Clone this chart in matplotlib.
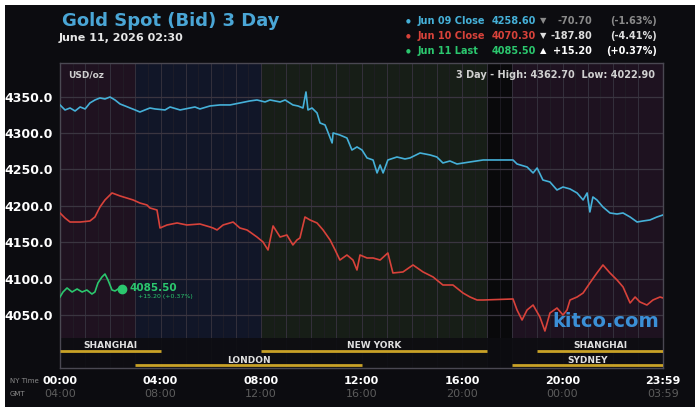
import matplotlib.pyplot as plt
from matplotlib.patches import Rectangle
from matplotlib.transforms import blended_transform_factory

# hours (NY time) and prices
jun09_hours = [0.00, 0.20, 0.40, 0.60, 0.80, 1.00, 1.19, 1.39, 1.59, 1.79, 1.99, 2.19, 2.39, 2.59,
               2.79, 2.99, 3.18, 3.38, 3.58, 3.78, 4.18, 4.38, 4.78, 5.17, 5.37, 5.57, 5.97, 6.37,
               6.77, 7.16, 7.56, 7.84, 8.16, 8.36, 8.76, 8.96, 9.27, 9.47, 9.67, 9.79, 9.87, 10.03,
               10.23, 10.35, 10.55, 10.63, 10.83, 10.87, 11.14, 11.42, 11.62, 11.82, 12.02, 12.22,
               12.46, 12.62, 12.74, 12.86, 13.05, 13.41, 13.73, 13.93, 14.33, 14.73, 15.00, 15.24,
               15.52, 15.80, 16.32, 16.84, 18.03, 18.19, 18.59, 18.83, 18.99, 19.22, 19.50, 19.78,
               20.02, 20.30, 20.58, 20.82, 20.98, 21.09, 21.21, 21.37, 21.61, 21.89, 22.17, 22.41,
               22.69, 22.97, 23.20, 23.48, 23.76, 24.00]
jun09_price = [4338.5, 4331.6, 4334.3, 4330.2, 4335.7, 4333.0, 4341.2, 4345.3, 4348.1, 4346.7,
               4349.4, 4345.3, 4339.8, 4337.1, 4334.3, 4331.6, 4328.8, 4331.6, 4334.3, 4333.0,
               4331.6, 4335.7, 4331.6, 4334.3, 4335.7, 4333.0, 4337.1, 4338.5, 4338.5, 4341.2,
               4344.0, 4345.3, 4342.6, 4345.3, 4342.6, 4345.3, 4338.5, 4337.1, 4334.3, 4356.3,
               4331.6, 4334.3, 4327.5, 4313.7, 4311.0, 4304.1, 4286.3, 4300.0, 4297.2, 4293.1,
               4276.6, 4280.8, 4276.6, 4265.7, 4262.9, 4245.1, 4256.0, 4245.1, 4262.9, 4267.0,
               4264.3, 4265.7, 4272.5, 4269.8, 4267.0, 4258.8, 4261.5, 4257.4, 4260.2, 4262.9,
               4262.9, 4257.4, 4253.3, 4245.1, 4251.9, 4235.4, 4232.7, 4221.7, 4225.8, 4223.1,
               4217.6, 4208.0, 4217.6, 4191.5, 4212.1, 4208.0, 4198.3, 4190.1, 4188.7, 4190.1,
               4184.6, 4177.7, 4179.1, 4180.5, 4184.6, 4187.4]

jun10_hours = [0.00, 0.20, 0.40, 0.80, 1.19, 1.39, 1.59, 1.79, 2.07, 2.39, 2.91, 3.18, 3.46, 3.58,
               3.86, 3.98, 4.26, 4.66, 5.05, 5.57, 5.97, 6.09, 6.25, 6.49, 6.89, 7.16, 7.44, 7.56,
               7.84, 8.08, 8.28, 8.48, 8.76, 9.03, 9.27, 9.43, 9.55, 9.75, 9.95, 10.23, 10.47,
               10.75, 10.95, 11.14, 11.42, 11.66, 11.82, 11.94, 12.22, 12.46, 12.74, 13.05, 13.25,
               13.65, 14.05, 14.45, 14.85, 15.24, 15.64, 16.04, 16.32, 16.60, 16.84, 18.03, 18.19,
               18.39, 18.59, 18.83, 19.10, 19.30, 19.50, 19.78, 20.02, 20.18, 20.30, 20.58, 20.82,
               21.09, 21.37, 21.61, 21.89, 22.17, 22.41, 22.69, 22.89, 23.08, 23.36, 23.60, 23.88,
               24.00]
jun10_price = [4190.1, 4183.2, 4177.7, 4177.7, 4179.1, 4184.6, 4198.3, 4208.0, 4217.6, 4213.5,
               4208.0, 4203.8, 4201.1, 4197.0, 4194.2, 4169.5, 4173.6, 4176.4, 4173.6, 4175.0,
               4170.9, 4169.5, 4166.8, 4173.6, 4177.7, 4169.5, 4166.8, 4164.0, 4157.1, 4150.3,
               4139.3, 4172.3, 4157.1, 4159.9, 4146.2, 4153.0, 4155.8, 4184.6, 4180.5, 4176.4,
               4166.8, 4153.0, 4139.3, 4125.5, 4132.4, 4125.5, 4111.8, 4132.4, 4128.3, 4128.3,
               4125.5, 4135.2, 4107.7, 4109.1, 4118.7, 4109.1, 4102.2, 4091.2, 4091.2, 4080.2,
               4074.7, 4070.6, 4070.6, 4072.0, 4056.9, 4043.1, 4056.9, 4063.7, 4047.3, 4028.0,
               4052.7, 4059.6, 4050.0, 4056.9, 4070.6, 4074.7, 4080.2, 4094.0, 4107.7, 4118.7,
               4107.7, 4098.1, 4088.5, 4066.5, 4074.7, 4067.9, 4063.7, 4070.6, 4074.7, 4073.4]

jun11_hours = [0.00, 0.12, 0.28, 0.48, 0.68, 0.88, 1.07, 1.27, 1.39, 1.51, 1.67, 1.79, 1.91,
               2.07, 2.19, 2.31, 2.47]
jun11_price = [4074.7, 4081.6, 4087.1, 4081.6, 4085.7, 4081.6, 4084.3, 4078.8, 4081.6, 4094.0,
               4102.2, 4106.3, 4098.1, 4084.3, 4083.0, 4085.7, 4085.5]

legend_rows = [("Jun 09 Close", "4258.60", "\u25bc", "-70.70", "(-1.63%)"),
               ("Jun 10 Close", "4070.30", "\u25bc", "-187.80", "(-4.41%)"),
               ("Jun 11 Last", "4085.50", "\u25b2", "+15.20", "(+0.37%)")]

y_ticks = [4050, 4100, 4150, 4200, 4250, 4300, 4350]
x_ticks = [0, 4, 8, 12, 16, 20, 24]
ny_labels = ["00:00", "04:00", "08:00", "12:00", "16:00", "20:00", "23:59"]
gmt_labels = ["04:00", "08:00", "12:00", "16:00", "20:00", "00:00", "03:59"]

# (name, start hour, end hour, row)
sessions = [("SHANGHAI", 0, 4, 0), ("LONDON", 3, 12, 1), ("NEW YORK", 8, 17, 0),
            ("SHANGHAI", 19, 24, 0), ("SYDNEY", 18, 24, 1)]
shades = [(0, 3, '#1f1220'), (3, 8, '#111628'), (8, 17, '#171e17'),
          (17, 18, '#09090b'), (18, 24, '#1e1220')]

BLUE = '#45b0d8'
RED = '#d8423a'
GREEN = '#2bc76e'
GOLD = '#c9a227'
W, H = 700, 413


def fx(x):
    return x / W


def fy(y):
    return 1 - y / H


fig = plt.figure(figsize=(7, 4.13), dpi=100, facecolor='white')
fig.patches.append(Rectangle((fx(5), fy(407)), fx(690), 402 / H, transform=fig.transFigure,
                             facecolor='#0c0c10', edgecolor='none', zorder=-10))

fig.text(fx(62), fy(21), "Gold Spot (Bid) 3 Day", color='#4aa6d6', fontsize=13,
         fontweight='bold', va='center')
fig.text(fx(59), fy(38), "June 11, 2026 02:30", color='#e6e6e6', fontsize=8,
         fontweight='bold', va='center')

row_colors = [BLUE, RED, GREEN]
chg_colors = ['#8a8a8a', '#dddddd', '#ffffff']
for i, (name, val, arrow, chg, pct) in enumerate(legend_rows):
    yy = fy(21 + 15 * i)
    c = row_colors[i]
    fig.text(fx(408), yy, "\u25cf", color=c, fontsize=4, va='center', ha='center')
    fig.text(fx(418), yy, name, color=c, fontsize=7, fontweight='bold', va='center')
    fig.text(fx(492), yy, val, color=c, fontsize=7, fontweight='bold', va='center')
    fig.text(fx(543), yy, arrow, color=chg_colors[i], fontsize=6, va='center', ha='center')
    fig.text(fx(592), yy, chg, color=chg_colors[i], fontsize=7, fontweight='bold',
             va='center', ha='right')
    fig.text(fx(657), yy, pct, color=chg_colors[i], fontsize=7, fontweight='bold',
             va='center', ha='right')

ax = fig.add_axes([fx(60), fy(368), 603 / W, 305 / H])
ax.set_zorder(1)
ax.set_facecolor('#141219')
ax.set_xlim(0, 24)
ax.set_ylim(3977.2, 4396.1)

for a, b, c in shades:
    ax.axvspan(a, b, color=c, zorder=0, lw=0)

for h in range(1, 24):
    ax.axvline(h, color='#34303c', lw=0.7, zorder=1)
    ax.axvline(h - 0.5, color='#221f28', lw=0.5, zorder=1)
for v in y_ticks:
    ax.axhline(v, color='#3a3540', lw=0.9, zorder=1)

# session band at the bottom
ax.add_patch(Rectangle((0, 0), 1, 0.098, transform=ax.transAxes, facecolor='#0d0d11',
                       edgecolor='none', alpha=0.9, zorder=2))
tr = blended_transform_factory(ax.transData, ax.transAxes)
row_line = [0.056, 0.010]
row_text = [0.074, 0.026]
for name, a, b, r in sessions:
    ax.plot([a, b], [row_line[r], row_line[r]], color=GOLD, lw=2, transform=tr,
            solid_capstyle='butt', zorder=3)
    ax.text((a + b) / 2, row_text[r], name, color='#e0e0e0', fontsize=6.5,
            fontweight='bold', ha='center', va='center', transform=tr, zorder=3)

ax.plot(jun09_hours, jun09_price, color=BLUE, lw=1.2, zorder=4)
ax.plot(jun10_hours, jun10_price, color=RED, lw=1.2, zorder=4)
ax.plot(jun11_hours, jun11_price, color=GREEN, lw=1.2, zorder=5)
ax.plot(jun11_hours[-1], jun11_price[-1], 'o', color=GREEN, ms=6, zorder=6)
ax.text(jun11_hours[-1] + 0.3, jun11_price[-1] + 1.5, "4085.50", color=GREEN, fontsize=7.5,
        fontweight='bold', va='center', zorder=6)
ax.text(jun11_hours[-1] + 0.62, jun11_price[-1] - 9.5, "+15.20 (+0.37%)", color=GREEN,
        fontsize=4.5, va='center', zorder=6)

ax.text(8 / 603, 0.962, "USD/oz", transform=ax.transAxes, color='#cfcfcf', fontsize=6.5,
        fontweight='bold', va='center')
ax.text(595 / 603, 0.962, "3 Day - High: 4362.70  Low: 4022.90", transform=ax.transAxes,
        color='#d0d0d0', fontsize=7, fontweight='bold', va='center', ha='right')
ax.text(0.905, 0.151, "kitco.com", transform=ax.transAxes, color='#3b8fd6', fontsize=14,
        fontweight='bold', va='center', ha='center', zorder=6)

ax.set_yticks(y_ticks)
ax.set_yticklabels([f"{v:.1f}" for v in y_ticks], color='white', fontsize=9,
                   fontweight='bold')
ax.tick_params(axis='y', length=0, pad=5)
ax.set_xticks([])
for s in ax.spines.values():
    s.set_color('#4a4852')
    s.set_linewidth(1)

xt = ax.get_xaxis_transform()
for h, ny, gmt in zip(x_ticks, ny_labels, gmt_labels):
    ax.text(h, -0.043, ny, transform=xt, color='white', fontsize=8, fontweight='bold',
            ha='center', va='center')
    ax.text(h, -0.085, gmt, transform=xt, color='#5c5c5c', fontsize=8,
            ha='center', va='center')
fig.text(fx(10), fy(381), "NY Time", color='#8a8a8a', fontsize=5, va='center')
fig.text(fx(10), fy(394), "GMT", color='#8a8a8a', fontsize=5, va='center')

fig.savefig('out.png', dpi=100, facecolor='white')
